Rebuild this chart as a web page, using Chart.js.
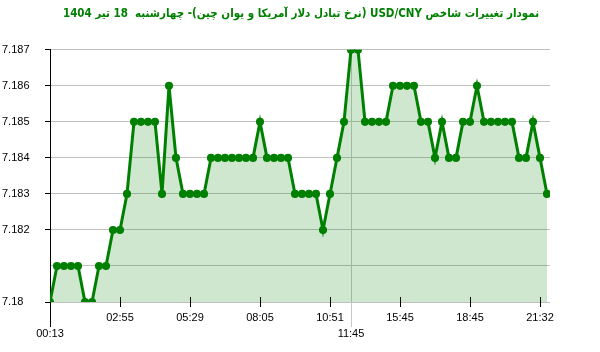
<!DOCTYPE html>
<html>
<head>
<meta charset="utf-8">
<script src="https://cdn.jsdelivr.net/npm/chart.js@4/dist/chart.umd.min.js"></script>
<style>
  body { margin: 0; background: #fff; }
</style>
</head>
<body>
<canvas id="rateChart" width="600" height="352" dir="rtl"></canvas>
<script>
// USD/CNY rate, one value per sample (72 samples through the day)
const rates = [
    7.180, 7.181, 7.181, 7.181, 7.181, 7.180, 7.180, 7.181, 7.181, 7.182,
    7.182, 7.183, 7.185, 7.185, 7.185, 7.185, 7.183, 7.186, 7.184, 7.183,
    7.183, 7.183, 7.183, 7.184, 7.184, 7.184, 7.184, 7.184, 7.184, 7.184,
    7.185, 7.184, 7.184, 7.184, 7.184, 7.183, 7.183, 7.183, 7.183, 7.182,
    7.183, 7.184, 7.185, 7.187, 7.187, 7.185, 7.185, 7.185, 7.185, 7.186,
    7.186, 7.186, 7.186, 7.185, 7.185, 7.184, 7.185, 7.184, 7.184, 7.185,
    7.185, 7.186, 7.185, 7.185, 7.185, 7.185, 7.185, 7.184, 7.184, 7.185,
    7.184, 7.183
];

// x tick labels and the sample they belong to
const tickPositions = [0, 10, 20, 30, 40, 43, 50, 60, 70];
const tickLabels = ['00:13', '02:55', '05:29', '08:05', '10:51', '11:45', '15:45', '18:45', '21:32'];
const markerIndex = 43; // 11:45 marker line

// y ticks (7.181 has no label in the original)
const yTicks = [7.180, 7.181, 7.182, 7.183, 7.184, 7.185, 7.186, 7.187];
const yTickLabels = ['7.18', '', '7.182', '7.183', '7.184', '7.185', '7.186', '7.187'];

const title = 'نمودار تغییرات شاخص USD/CNY (نرخ تبادل دلار آمریکا و یوان چین)- چهارشنبه  18 تیر 1404';

const points = rates.map((v, i) => ({ x: i, y: v }));

// marker line, lengthened y axis and x tick marks
const marks = {
    id: 'marks',
    beforeDatasetsDraw(chart) {
        const { ctx, chartArea, scales: { x } } = chart;
        ctx.save();
        ctx.lineWidth = 1;
        const mx = Math.round(x.getPixelForValue(markerIndex)) + 0.5;
        ctx.strokeStyle = '#c8c8c8';
        ctx.beginPath();
        ctx.moveTo(mx, chartArea.top);
        ctx.lineTo(mx, chartArea.bottom + 25);
        ctx.stroke();

        const lx = Math.round(chartArea.left) + 0.5;
        ctx.strokeStyle = '#000';
        ctx.beginPath();
        ctx.moveTo(lx, chartArea.bottom);
        ctx.lineTo(lx, chartArea.bottom + 25);
        ctx.stroke();
        ctx.restore();
    },
    afterDatasetsDraw(chart) {
        const { ctx, chartArea, scales: { x } } = chart;
        ctx.save();
        ctx.lineWidth = 1;
        ctx.strokeStyle = '#000';
        tickPositions.forEach(v => {
            if (v === 0 || v === markerIndex) return;
            const px = Math.round(x.getPixelForValue(v)) + 0.5;
            ctx.beginPath();
            ctx.moveTo(px, chartArea.bottom - 5);
            ctx.lineTo(px, chartArea.bottom + 5);
            ctx.stroke();
        });
        ctx.restore();
    }
};

const ctx = document.getElementById('rateChart').getContext('2d');
new Chart(ctx, {
    type: 'line',
    data: {
        datasets: [{
            data: points,
            borderColor: '#008000',
            backgroundColor: 'rgba(0, 128, 0, 0.19)',
            borderWidth: 3,
            fill: 'start',
            tension: 0,
            pointRadius: 3.3,
            pointBorderWidth: 1.5,
            pointBackgroundColor: '#008000',
            pointBorderColor: '#008000'
        }]
    },
    options: {
        responsive: false,
        animation: false,
        layout: { padding: { left: 2, right: 0, top: 0, bottom: 0 } },
        plugins: {
            legend: { display: false },
            tooltip: { enabled: false },
            title: {
                display: true,
                text: title,
                color: '#008000',
                font: { family: 'DejaVu Sans Condensed', size: 11.5, weight: 'bold' },
                padding: { top: 7, bottom: 29 }
            }
        },
        scales: {
            x: {
                type: 'linear',
                min: 0,
                max: 500 / 7,
                afterBuildTicks: scale => {
                    scale.ticks = tickPositions.map(v => ({ value: v }));
                },
                afterFit: scale => { scale.height = 50; },
                ticks: {
                    autoSkip: false,
                    maxRotation: 0,
                    padding: 8,
                    color: '#000',
                    font: { family: 'Liberation Sans', size: 11, lineHeight: 16 / 11 },
                    callback: value => {
                        const label = tickLabels[tickPositions.indexOf(value)];
                        return (value === 0 || value === markerIndex) ? ['', label] : label;
                    }
                },
                grid: { display: false, drawTicks: false },
                border: { display: false }
            },
            y: {
                min: 7.18,
                max: 7.187,
                afterBuildTicks: scale => {
                    scale.ticks = yTicks.map(v => ({ value: v }));
                },
                afterFit: scale => { scale.width = 48; },
                ticks: {
                    crossAlign: 'far',
                    color: '#000',
                    font: { family: 'Liberation Sans', size: 11 },
                    callback: value => yTickLabels[yTicks.indexOf(value)]
                },
                grid: {
                    color: '#c0c0c0',
                    tickLength: 5,
                    tickColor: c => (c.tick && yTickLabels[yTicks.indexOf(c.tick.value)] === '') ? 'rgba(0,0,0,0)' : '#000'
                },
                border: { display: true, color: '#000', width: 1 }
            },
            // empty right-hand strip, keeps the plot 50px short of the right edge
            yRight: {
                position: 'right',
                display: true,
                afterFit: scale => { scale.width = 50; },
                ticks: { display: false },
                grid: { display: false, drawTicks: false },
                border: { display: false }
            }
        }
    },
    plugins: [marks]
});
</script>
</body>
</html>
